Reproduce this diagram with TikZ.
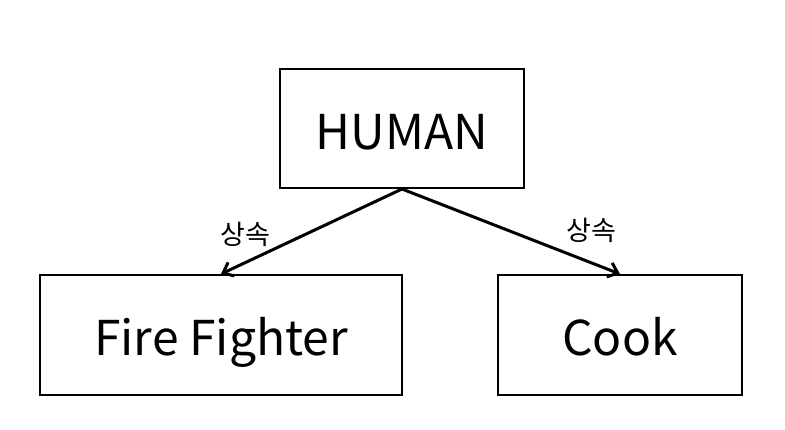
\documentclass[tikz,border=0pt]{standalone}
\usepackage{fontspec}
\setmainfont{Noto Sans CJK KR}
\usetikzlibrary{arrows.meta}

\tikzset{
  classbox/.style={draw, line width=2pt, minimum height=120pt, text height=41pt, text depth=0pt, font=\fontsize{48}{52}\selectfont},
  inherit/.style={line width=3pt, -{Straight Barb[length=9pt,width=15pt,line width=3pt]}},
  inheritlabel/.style={font=\fontsize{27}{30}\selectfont}
}

\begin{document}
\begin{tikzpicture}[x=1pt,y=-1pt]
    \useasboundingbox (0,0) rectangle (785,429);

    \node[classbox, minimum width=244pt, minimum height=119pt] (human) at (402,128.5) {HUMAN};
    \node[classbox, minimum width=362pt] (fighter) at (221,335) {Fire Fighter};
    \node[classbox, minimum width=244pt] (cook) at (620,335) {Cook};

    \draw[inherit] (human.south) -- (fighter.north);
    \draw[inherit] (human.south) -- (cook.north);

    \node[inheritlabel] (lblfighter) at (245,234) {상속};
    \node[inheritlabel] (lblcook) at (591,230) {상속};
  \end{tikzpicture}
\end{document}
